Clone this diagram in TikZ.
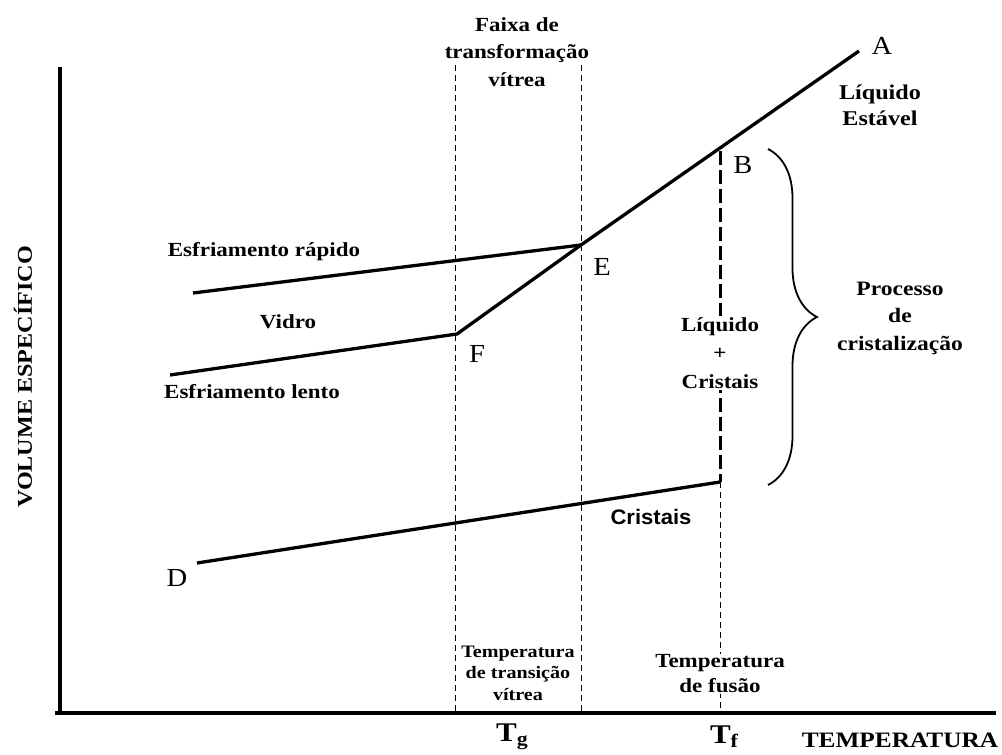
\documentclass[tikz,border=0pt]{standalone}
\usepackage{fontspec}
\setmainfont{Liberation Serif}[FakeStretch=1.15]
\newfontfamily\plainserif{Liberation Serif}[FakeStretch=1.1]
\newfontfamily\sansbold{Liberation Sans}[FakeStretch=1.05]
\usetikzlibrary{decorations.pathreplacing}
\tikzset{
  lbl/.style={font=\fontsize{20}{27.5}\selectfont\bfseries, align=center, inner sep=1pt},
  ptlabel/.style={font=\fontsize{26}{28}\selectfont\plainserif, inner sep=1pt},
  curve/.style={line width=3.3pt},
  axisline/.style={line width=3.3pt},
  thindash/.style={line width=1pt, dash pattern=on 6pt off 4pt},
  thickdash/.style={line width=3pt, dash pattern=on 14pt off 5pt},
  bracestyle/.style={line width=1.8pt, decorate, decoration={brace, amplitude=49pt, aspect=0.5}},
}
\begin{document}
\begin{tikzpicture}[x=1pt,y=-1pt]
\path[use as bounding box] (0,0) rectangle (1002,755);

% axes
\coordinate (yaxtop) at (60,67);
\coordinate (origin) at (60,713);
\coordinate (xaxend) at (996,713);
\draw[axisline] (yaxtop) -- (origin);
\draw[axisline] (55,713) -- (xaxend);

% key points
\coordinate (A) at (859,51);
\coordinate (E) at (581,245);
\coordinate (F) at (457,334);
\coordinate (R0) at (193,293);
\coordinate (L0) at (170,375);
\coordinate (D0) at (197,563);
\coordinate (C) at (720,482);
\coordinate (B) at (720,151);

% dashed verticals
\coordinate (g1t) at (455,65); \coordinate (g1b) at (455,713);
\coordinate (g2t) at (581,65); \coordinate (g2b) at (581,713);
\coordinate (tfb) at (720,713);
\draw[thindash] (g1t) -- (g1b);
\draw[thindash] (g2t) -- (g2b);
\draw[thickdash] (B) -- (C);
\draw[thindash] (C) -- (tfb);

% curves
\draw[curve] (A) -- (E);
\draw[curve] (R0) -- (E);
\draw[curve, line join=round] (L0) -- (F) -- (E);
\draw[curve] (D0) -- (C);

% brace
\coordinate (brt) at (768,149);
\coordinate (brb) at (768,485);
\draw[bracestyle] (brt) -- (brb);

% labels
\node[lbl] (faixa) at (517,52) {Faixa de\\transformação\\vítrea};
\node[ptlabel] (lA) at (882,46) {A};
\node[ptlabel] (lB) at (743,165) {B};
\node[ptlabel] (lE) at (602,267) {E};
\node[ptlabel] (lF) at (477,354) {F};
\node[ptlabel] (lD) at (177,578) {D};
\node[lbl, font=\fontsize{21}{26}\selectfont\bfseries] (estavel) at (880,105) {Líquido\\Estável};
\node[lbl] (rapido) at (264,252) {Esfriamento rápido};
\node[lbl] (vidro) at (288,322) {Vidro};
\node[lbl] (lento) at (252,392) {Esfriamento lento};
\node[lbl, fill=white, font=\fontsize{20}{28.5}\selectfont\bfseries] (lc) at (720,353) {Líquido\\+\\Cristais};
\node[lbl, font=\fontsize{20.5}{27.5}\selectfont\bfseries] (proc) at (900,318) {Processo\\de\\cristalização};
\node[font=\fontsize{21}{24}\selectfont\sansbold\bfseries, inner sep=1pt] (cristais) at (651,517) {Cristais};
\node[lbl, rotate=90, font=\fontsize{21}{24}\selectfont\bfseries] (vol) at (23,377) {VOLUME ESPECÍFICO};
\node[lbl, fill=white, font=\fontsize{17.5}{21.5}\selectfont\bfseries] (ttv) at (518,673) {Temperatura\\de transição\\vítrea};
\node[lbl, fill=white, font=\fontsize{20}{25}\selectfont\bfseries] (tfus) at (720,674) {Temperatura\\de fusão};
\node[font=\fontsize{27}{30}\selectfont\bfseries, inner sep=1pt] (Tg) at (512,737) {T\raisebox{-4pt}{\fontsize{19}{19}\selectfont g}};
\node[font=\fontsize{27}{30}\selectfont\bfseries, inner sep=1pt] (Tf) at (724,737) {T\raisebox{-4pt}{\fontsize{19}{19}\selectfont f}};
\node[font=\fontsize{22}{24}\selectfont\bfseries, inner sep=1pt] (temp) at (900,740) {TEMPERATURA};
\end{tikzpicture}
\end{document}
